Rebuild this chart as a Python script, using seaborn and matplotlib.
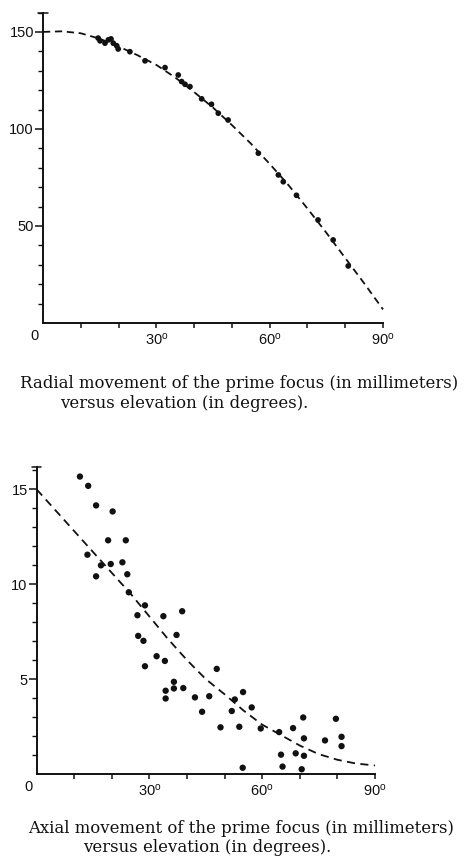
import matplotlib
matplotlib.use("Agg")
import matplotlib.pyplot as plt
import seaborn as sns
import pandas as pd

# ---------------- data ----------------
# Radial movement (mm) vs elevation (deg)
radial_elev = [14.6, 15.1, 16.4, 17.3, 18.0, 18.6, 19.5, 19.9, 23.0, 27.0,
               32.3, 35.8, 36.7, 37.6, 38.9, 42.0, 44.6, 46.4, 49.0, 57.0,
               62.3, 63.6, 67.1, 72.8, 76.8, 80.8]
radial_mm = [146.8, 145.4, 144.2, 145.9, 146.4, 144.2, 142.9, 141.2, 139.8, 135.1,
             131.6, 127.8, 124.4, 123.0, 121.8, 115.5, 112.7, 108.1, 104.6, 87.5,
             76.3, 72.8, 65.8, 53.1, 42.8, 29.4]
radial_curve_elev = [0, 5, 10, 15, 20, 25, 30, 35, 40, 45, 50, 55, 60, 65, 70, 75, 80, 85, 90]
radial_curve_mm = [150, 150.3, 149.3, 146.5, 142.5, 138, 133, 126.5, 119, 111,
                   102, 92.5, 82, 71, 59, 46.5, 33.5, 20.5, 7]

# Axial movement (mm) vs elevation (deg)
axial_elev = [11.5, 13.7, 15.8, 20.2, 19.0, 23.7, 13.5, 17.1, 19.7, 22.8,
              15.8, 24.1, 24.5, 28.8, 26.8, 33.7, 38.7, 27.0, 28.4, 37.2,
              28.8, 31.9, 34.1, 47.9, 36.5, 36.5, 39.0, 34.3, 34.3, 42.1,
              45.9, 54.9, 52.7, 44.0, 51.9, 57.2, 48.9, 53.9, 54.8, 59.6,
              64.5, 65.0, 65.4, 68.2, 68.9, 70.5, 70.9, 71.1, 71.1, 76.7,
              79.6, 81.1, 81.1]
axial_mm = [15.68, 15.19, 14.16, 13.84, 12.32, 12.32, 11.56, 11.0, 11.07, 11.16,
            10.42, 10.53, 9.58, 8.89, 8.37, 8.32, 8.58, 7.28, 7.02, 7.33,
            5.68, 6.21, 5.96, 5.54, 4.86, 4.51, 4.53, 4.39, 3.98, 4.04,
            4.1, 4.32, 3.93, 3.28, 3.32, 3.51, 2.46, 2.49, 0.33, 2.4,
            2.21, 1.02, 0.39, 2.42, 1.09, 0.25, 2.98, 1.88, 0.96, 1.77,
            2.91, 1.96, 1.47]
axial_curve_elev = [0, 5, 10, 15, 20, 25, 30, 35, 40, 45, 50, 55, 60, 65, 70, 75, 80, 85, 90]
axial_curve_mm = [15, 13.9, 12.8, 11.7, 10.6, 9.5, 8.3, 7.1, 6.0, 5.0,
                  4.2, 3.35, 2.6, 2.05, 1.5, 1.05, 0.75, 0.55, 0.45]

x_tick_labels = ["30$^\\mathregular{o}$", "60$^\\mathregular{o}$", "90$^\\mathregular{o}$"]
caption_top = ["Radial movement of the prime focus (in millimeters)",
               "versus elevation (in degrees)."]
caption_bottom = ["Axial movement of the prime focus (in millimeters)",
                  "versus elevation (in degrees)."]

# ---------------- style ----------------
sns.set_theme(style="ticks")
plt.rcParams["font.family"] = ["Liberation Sans", "DejaVu Sans"]
plt.rcParams["mathtext.default"] = "regular"

INK = "#111111"
W, H = 465, 857
fig = plt.figure(figsize=(W / 100, H / 100), dpi=100)

def px_axes(left, right, top, bottom):
    return fig.add_axes([left / W, 1 - bottom / H, (right - left) / W, (bottom - top) / H])

ax1 = px_axes(43, 383, 12.5, 323)
ax2 = px_axes(36.7, 375, 466.7, 774)

def style_axes(ax, ymax, ymajor, yminor_step, ylabels):
    ax.set_xlim(0, 90)
    ax.set_ylim(0, ymax)
    ax.spines["top"].set_visible(False)
    ax.spines["right"].set_visible(False)
    for s in ("left", "bottom"):
        ax.spines[s].set_linewidth(1.4)
        ax.spines[s].set_color(INK)
    ax.set_xticks(list(range(10, 91, 10)))
    ax.set_xticklabels(["", "", x_tick_labels[0], "", "", x_tick_labels[1], "", "", x_tick_labels[2]])
    ax.set_yticks(ymajor)
    ax.set_yticklabels(ylabels)
    ax.set_yticks([v for v in yminor_step if v not in ymajor], minor=True)
    ax.tick_params(axis="x", direction="out", length=3.5, width=1.1, color=INK,
                   labelsize=10.5, pad=3, labelcolor=INK)
    ax.tick_params(axis="y", which="major", direction="out", length=5.5, width=1.1,
                   color=INK, labelsize=10.5, pad=1, labelcolor=INK)
    ax.tick_params(axis="y", which="minor", direction="out", length=3.5, width=1.0,
                   color=INK)
    ax.set_xlabel("")
    ax.set_ylabel("")
    ax.patch.set_alpha(0)
    # cap tick at top of y axis
    ax.plot([-1.2, 1.2], [ymax, ymax], color=INK, lw=1.1, clip_on=False)
    # origin label "0"
    ax.annotate("0", xy=(0, 0), xycoords="data", xytext=(-6, -4), textcoords="offset points",
                ha="center", va="top", fontsize=10.5, color=INK)

# ---- top panel ----
df_r = pd.DataFrame({"elev": radial_elev, "mm": radial_mm})
df_rc = pd.DataFrame({"elev": radial_curve_elev, "mm": radial_curve_mm})
sns.lineplot(data=df_rc, x="elev", y="mm", ax=ax1, color=INK, lw=1.3,
             linestyle=(0, (4, 2.6)), clip_on=False)
sns.scatterplot(data=df_r, x="elev", y="mm", ax=ax1, color=INK, s=17,
                edgecolor="none", clip_on=False)
style_axes(ax1, 160, [50, 100, 150], list(range(10, 161, 10)), ["50", "100", "150"])

# ---- bottom panel ----
df_a = pd.DataFrame({"elev": axial_elev, "mm": axial_mm})
df_ac = pd.DataFrame({"elev": axial_curve_elev, "mm": axial_curve_mm})
sns.lineplot(data=df_ac, x="elev", y="mm", ax=ax2, color=INK, lw=1.3,
             linestyle=(0, (4.5, 3)), clip_on=False)
sns.scatterplot(data=df_a, x="elev", y="mm", ax=ax2, color=INK, s=21,
                edgecolor="none", clip_on=False)
style_axes(ax2, 16.2, [5, 10, 15], list(range(1, 17)), ["5", "10", "15"])

# ---- captions ----
cap_kw = dict(family=["DejaVu Serif"], fontsize=11.9, color=INK, va="baseline", ha="left")
fig.text(20 / W, 1 - 388 / H, caption_top[0], **cap_kw)
fig.text(60 / W, 1 - 408 / H, caption_top[1], **cap_kw)
fig.text(28 / W, 1 - 833 / H, caption_bottom[0], **cap_kw)
fig.text(83 / W, 1 - 852 / H, caption_bottom[1], **cap_kw)

fig.savefig("out.png", dpi=100)
